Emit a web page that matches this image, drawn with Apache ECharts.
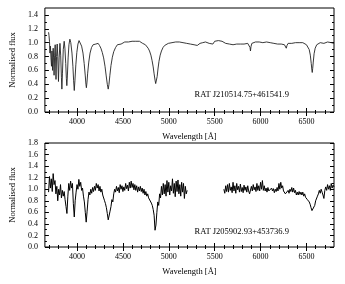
<!DOCTYPE html>
<html>
<head>
<meta charset="utf-8">
<script src="https://cdn.jsdelivr.net/npm/echarts@6/dist/echarts.min.js"></script>
<style>
html,body{margin:0;padding:0;background:#fff;}
#chart{width:345px;height:284px;}
</style>
</head>
<body>
<div id="chart"></div>
<script>
// ---------- data ----------
const xRange = [3650, 6800];
const xMajorTicks = [4000, 4500, 5000, 5500, 6000, 6500];
const xMinorTicks = [3700, 3800, 3900, 4100, 4200, 4300, 4400, 4600, 4700, 4800, 4900, 5100, 5200, 5300, 5400, 5600, 5700, 5800, 5900, 6100, 6200, 6300, 6400, 6600, 6700];
const yTopTicks = [0.0, 0.2, 0.4, 0.6, 0.8, 1.0, 1.2, 1.4];
const yTopMinor = [0.1, 0.3, 0.5, 0.7, 0.9, 1.1, 1.3];
const yBotTicks = [0.0, 0.2, 0.4, 0.6, 0.8, 1.0, 1.2, 1.4, 1.6, 1.8];
const yBotMinor = [0.1, 0.3, 0.5, 0.7, 0.9, 1.1, 1.3, 1.5, 1.7];
const labelTop = 'RAT J210514.75+461541.9';
const labelBottom = 'RAT J205902.93+453736.9';
const labelTopAt = [5795, 0.245];
const labelBottomAt = [5795, 0.26];
const xTitle = 'Wavelength [Å]';
const yTitle = 'Normalised flux';

// top spectrum (DA white dwarf) : wavelength, normalised flux
const topWave = [3690,3695,3700,3705,3710,3716,3722,3727,3734,3740,3745,3750,3756,3762,3766,3771,3777,3784,3790,3798,3805,3814,3822,3830,3835,3841,3850,3860,3868,3877,3884,3889,3895,3903,3912,3922,3932,3945,3955,3963,3970,3977,3987,3998,4010,4022,4035,4050,4065,4078,4090,4097,4102,4108,4116,4128,4142,4158,4175,4190,4205,4218,4230,4245,4260,4275,4290,4305,4318,4330,4340,4348,4358,4370,4385,4400,4420,4440,4460,4480,4500,4520,4540,4560,4580,4600,4620,4640,4660,4680,4700,4715,4730,4745,4760,4775,4790,4805,4818,4830,4840,4850,4857,4861,4866,4873,4882,4893,4906,4920,4937,4955,4975,4995,5015,5035,5055,5075,5095,5115,5135,5155,5175,5195,5215,5235,5255,5275,5295,5310,5325,5340,5355,5370,5385,5400,5420,5440,5460,5480,5500,5520,5540,5560,5580,5600,5620,5640,5660,5680,5700,5720,5740,5760,5780,5800,5820,5840,5860,5875,5885,5890,5895,5905,5925,5945,5965,5985,6005,6025,6045,6065,6085,6105,6125,6145,6165,6185,6205,6225,6245,6260,6272,6280,6288,6300,6320,6340,6360,6380,6400,6420,6440,6460,6480,6500,6515,6530,6542,6552,6558,6563,6568,6574,6583,6595,6612,6630,6650,6670,6690,6710,6730,6750,6770,6790,6800];
const topFlux = [1.15,1.10,1.02,0.85,0.95,0.78,0.66,0.88,0.60,0.92,0.78,0.53,0.82,0.97,0.78,0.47,0.80,0.98,0.80,0.44,0.78,0.99,0.82,0.50,0.33,0.55,0.90,1.02,0.92,0.70,0.48,0.38,0.52,0.78,0.97,1.05,1.00,0.85,0.66,0.45,0.31,0.45,0.68,0.86,0.98,1.03,1.02,0.95,0.85,0.70,0.52,0.40,0.35,0.42,0.56,0.72,0.85,0.93,0.97,0.99,0.98,1.00,0.99,0.96,0.92,0.86,0.78,0.66,0.52,0.40,0.33,0.40,0.53,0.67,0.79,0.87,0.93,0.97,0.99,0.98,1.00,1.01,0.99,1.01,1.00,1.02,1.01,1.02,1.00,1.02,1.01,0.99,1.00,0.97,0.95,0.92,0.88,0.82,0.74,0.65,0.55,0.46,0.41,0.40,0.43,0.51,0.62,0.73,0.82,0.88,0.93,0.96,0.98,0.99,1.01,1.00,1.02,1.01,1.03,1.01,1.02,1.00,1.01,0.99,1.00,0.98,0.99,0.97,0.98,0.96,0.98,0.99,0.97,1.00,0.99,1.01,1.00,0.99,1.00,0.98,1.02,1.01,1.03,1.01,1.02,1.00,0.99,1.00,0.98,0.99,0.97,0.99,0.98,1.00,0.98,0.99,0.98,1.00,0.99,0.98,0.93,0.88,0.94,0.99,1.00,1.01,1.00,1.01,0.99,1.00,0.99,1.01,0.99,1.00,1.01,0.99,1.00,0.98,0.99,0.98,0.99,0.97,0.95,0.92,0.96,0.99,1.00,0.99,1.01,1.00,0.99,1.00,0.99,1.00,0.99,0.97,0.95,0.90,0.82,0.70,0.62,0.57,0.63,0.72,0.84,0.92,0.97,0.99,1.00,1.00,0.99,1.00,1.01,0.99,1.00,1.00,0.99];

// bottom spectrum, blue arm: first wavelength, step, fluxes
const botBlueStart = 3690, botBlueStep = 10;
const botBlueFlux = [0.95,1.22,1.02,1.18,0.96,1.27,1.08,1.15,0.92,1.05,0.80,1.00,0.90,1.08,0.85,0.98,0.88,0.96,0.82,0.70,0.58,0.88,1.10,0.98,1.14,1.02,1.10,0.75,0.52,0.80,0.95,1.08,1.00,1.17,1.05,1.12,0.98,1.02,0.88,0.78,0.60,0.43,0.62,0.82,0.95,0.90,1.00,0.93,1.03,0.96,1.05,0.98,1.10,1.02,1.08,0.97,1.05,0.95,1.00,0.90,0.88,0.80,0.75,0.68,0.58,0.47,0.50,0.62,0.70,0.82,0.78,0.92,1.00,0.95,1.05,0.97,1.03,0.94,1.08,1.00,1.06,0.96,1.04,0.98,1.10,1.01,1.07,0.97,1.12,1.02,1.14,1.03,1.10,0.99,1.08,0.98,1.06,0.95,1.04,0.97,1.05,0.96,1.02,0.93,1.00,0.90,0.96,0.88,0.92,0.85,0.82,0.86,0.76,0.72,0.65,0.55,0.29,0.38,0.60,0.78,0.72,0.92,0.85,1.05,0.90,1.10,0.92,1.08,0.88,1.15,0.95,1.12,0.90,1.06,0.97,1.18,0.93,1.10,0.87,1.14,0.96,1.16,0.92,1.08,0.88,1.12,0.95,1.10,0.84,1.05,0.92,0.98];
// bottom spectrum, red arm
const botRedStart = 5600, botRedStep = 10;
const botRedFlux = [1.00,0.93,1.06,0.96,1.08,0.95,1.10,0.98,1.04,0.94,1.12,0.97,1.06,0.93,1.10,0.99,1.05,0.95,1.09,0.96,1.03,0.94,1.07,0.98,1.04,0.95,1.06,0.97,0.92,0.95,1.05,0.97,1.08,0.99,1.04,0.96,1.10,0.98,1.06,0.97,1.12,1.00,1.15,0.98,1.06,0.97,1.02,0.95,1.03,0.97,1.00,0.95,1.02,0.97,1.01,0.94,1.00,0.96,1.03,0.97,1.10,1.00,1.12,1.02,1.06,0.97,1.00,0.92,0.89,0.94,0.98,0.93,1.00,0.96,1.03,0.95,1.02,0.94,0.98,0.90,0.95,0.90,0.96,0.91,0.95,0.90,0.95,0.88,0.92,0.86,0.88,0.82,0.84,0.78,0.74,0.68,0.63,0.62,0.66,0.72,0.80,0.78,0.88,0.92,0.98,0.93,1.00,0.95,0.90,0.84,0.98,1.04,0.98,1.08,1.00,1.06,0.98,1.10,1.02,1.07,1.04];

// ---------- build ----------
function pairs(w, f) { return w.map((x, i) => [x, f[i]]); }
function grid(w0, step, f) { return f.map((v, i) => [w0 + i * step, v]); }
const botData = grid(botBlueStart, botBlueStep, botBlueFlux)
  .concat([[5400, '-']])
  .concat(grid(botRedStart, botRedStep, botRedFlux));

const FONT = 'Liberation Serif';
const GRIDS = [
  {left: 44, top: 8, width: 290, height: 104},
  {left: 44, top: 143, width: 290, height: 104}
];
const TICK = {color: '#000', width: 1};

function xAxes(gi, withName) {
  const base = {gridIndex: gi, type: 'value', min: xRange[0], max: xRange[1],
    splitLine: {show: false}, axisLine: {show: false}};
  return [
    Object.assign({}, base, {position: 'bottom',
      axisTick: {show: true, inside: true, length: 4, customValues: xMajorTicks, lineStyle: TICK},
      axisLabel: {show: true, customValues: xMajorTicks, margin: 6, fontFamily: FONT, fontSize: 8, color: '#000',
        formatter: v => String(v)},
      name: withName, nameLocation: 'middle', nameGap: 20,
      nameTextStyle: {fontFamily: FONT, fontSize: 8.5, color: '#000'}}),
    Object.assign({}, base, {position: 'bottom',
      axisTick: {show: true, inside: true, length: 2, customValues: xMinorTicks, lineStyle: TICK},
      axisLabel: {show: false}}),
    Object.assign({}, base, {position: 'top',
      axisTick: {show: true, inside: true, length: 4, customValues: xMajorTicks, lineStyle: TICK},
      axisLabel: {show: false}}),
    Object.assign({}, base, {position: 'top',
      axisTick: {show: true, inside: true, length: 2, customValues: xMinorTicks, lineStyle: TICK},
      axisLabel: {show: false}})
  ];
}
function yAxes(gi, max, major, minor) {
  const base = {gridIndex: gi, type: 'value', min: 0, max: max,
    splitLine: {show: false}, axisLine: {show: false}};
  return [
    Object.assign({}, base, {position: 'left',
      axisTick: {show: true, inside: true, length: 4, customValues: major, lineStyle: TICK},
      axisLabel: {show: true, customValues: major, margin: 7, fontFamily: FONT, fontSize: 8, color: '#000',
        formatter: v => Number(v).toFixed(1)},
      name: yTitle, nameLocation: 'middle', nameGap: 27, nameRotate: 90,
      nameTextStyle: {fontFamily: FONT, fontSize: 8.5, color: '#000'}}),
    Object.assign({}, base, {position: 'left',
      axisTick: {show: true, inside: true, length: 2, customValues: minor, lineStyle: TICK},
      axisLabel: {show: false}}),
    Object.assign({}, base, {position: 'right',
      axisTick: {show: true, inside: true, length: 4, customValues: major, lineStyle: TICK},
      axisLabel: {show: false}}),
    Object.assign({}, base, {position: 'right',
      axisTick: {show: true, inside: true, length: 2, customValues: minor, lineStyle: TICK},
      axisLabel: {show: false}})
  ];
}

const chart = echarts.init(document.getElementById('chart'), null, {renderer: 'canvas'});
chart.setOption({
  animation: false,
  backgroundColor: '#fff',
  grid: GRIDS.map(g => Object.assign({show: true, borderColor: '#000', borderWidth: 1, backgroundColor: 'transparent'}, g)),
  xAxis: xAxes(0, xTitle).concat(xAxes(1, xTitle)),
  yAxis: yAxes(0, 1.5, yTopTicks, yTopMinor).concat(yAxes(1, 1.8, yBotTicks, yBotMinor)),
  series: [
    {type: 'line', xAxisIndex: 0, yAxisIndex: 0, data: pairs(topWave, topFlux), showSymbol: false,
      lineStyle: {color: '#222', width: 0.9}, silent: true,
      markPoint: {silent: true, symbol: 'rect', symbolSize: 0, data: [{coord: labelTopAt, label: {show: true, formatter: labelTop, fontFamily: FONT, fontSize: 8.5, color: '#000'}}]}},
    {type: 'line', xAxisIndex: 4, yAxisIndex: 4, data: botData, showSymbol: false, connectNulls: false,
      lineStyle: {color: '#000', width: 1}, silent: true,
      markPoint: {silent: true, symbol: 'rect', symbolSize: 0, data: [{coord: labelBottomAt, label: {show: true, formatter: labelBottom, fontFamily: FONT, fontSize: 8.5, color: '#000'}}]}}
  ]
});
</script>
</body>
</html>
